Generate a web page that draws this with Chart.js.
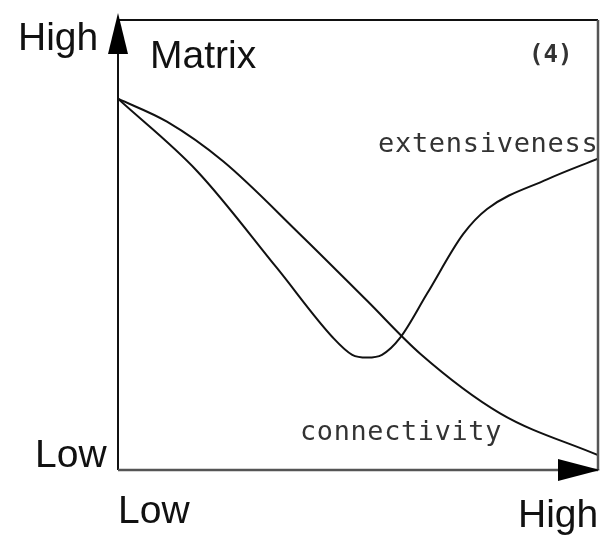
<!DOCTYPE html>
<html>
<head>
<meta charset="utf-8">
<script src="https://cdn.jsdelivr.net/npm/chart.js@4/dist/chart.umd.min.js"></script>
<style>
  html, body { margin: 0; padding: 0; background: #fff; }
  #wrap { width: 610px; height: 535px; position: relative; }
</style>
</head>
<body>
<div id="wrap"><canvas id="matrixChart"></canvas></div>
<script>
// values, both axes on a 0..100 scale
const extX = [0, 16.5, 33.1, 44.8, 48.8, 51.9, 55, 58.8, 64.4, 71.9, 76.9, 89.4, 100];
const extY = [82.5, 66.4, 44.9, 29.4, 25.6, 25.0, 25.6, 29.4, 39.2, 52.4, 58.0, 64.6, 69.2];
const connX = [0, 10.2, 21.9, 37.9, 51.9, 62.9, 79.6, 100];
const connY = [82.5, 77.4, 68.6, 52.4, 37.6, 25.9, 12.6, 3.3];
const axisLabels = { yHigh: 'High', yLow: 'Low', xLow: 'Low', xHigh: 'High' };
const seriesNames = ['extensiveness', 'connectivity'];
const panelTitle = 'Matrix';
const panelTag = '(4)';

function toPoints(xs, ys) {
    return xs.map((x, i) => ({ x: x, y: ys[i] }));
}

const frame = {
    id: 'frame',
    afterDraw(chart) {
        const ctx = chart.ctx;
        const a = chart.chartArea;
        ctx.save();
        // box
        ctx.strokeStyle = '#111';
        ctx.lineWidth = 2;
        ctx.beginPath();
        ctx.moveTo(a.left, a.bottom);
        ctx.lineTo(a.left, a.top);
        ctx.moveTo(a.left, a.top);
        ctx.lineTo(a.right, a.top);
        ctx.stroke();
        ctx.strokeStyle = '#555';
        ctx.lineWidth = 2.5;
        ctx.beginPath();
        ctx.moveTo(a.right, a.top);
        ctx.lineTo(a.right, a.bottom);
        ctx.moveTo(a.left, a.bottom);
        ctx.lineTo(a.right, a.bottom);
        ctx.stroke();

        // arrow heads
        ctx.fillStyle = '#000';
        ctx.beginPath();
        ctx.moveTo(a.left, a.top - 7);
        ctx.lineTo(a.left - 10, a.top + 34);
        ctx.lineTo(a.left + 10, a.top + 34);
        ctx.closePath();
        ctx.fill();
        ctx.beginPath();
        ctx.moveTo(a.right + 2, a.bottom);
        ctx.lineTo(a.right - 40, a.bottom - 11);
        ctx.lineTo(a.right - 40, a.bottom + 11);
        ctx.closePath();
        ctx.fill();

        // axis words
        ctx.fillStyle = '#111';
        ctx.textBaseline = 'alphabetic';
        ctx.font = '39px "Liberation Sans", Arial, sans-serif';
        ctx.fillText(axisLabels.yHigh, 18, 50);
        ctx.fillText(axisLabels.yLow, 35, 467);
        ctx.fillText(axisLabels.xLow, 118, 523);
        ctx.fillText(axisLabels.xHigh, 518, 527);
        ctx.fillText(panelTitle, 150, 68);

        ctx.font = 'bold 24px "DejaVu Sans Mono", monospace';
        ctx.fillStyle = '#333';
        ctx.fillText(panelTag, 529, 62);

        ctx.font = '27px "DejaVu Sans Mono", monospace';
        ctx.letterSpacing = '0.7px';
        ctx.fillStyle = '#333';
        ctx.fillText(seriesNames[0], 378, 152, 222);
        ctx.fillText(seriesNames[1], 300, 440, 202);
        ctx.restore();
    }
};

const lineStyle = {
    showLine: true,
    borderColor: '#111',
    borderWidth: 2,
    pointRadius: 0,
    fill: false,
    cubicInterpolationMode: 'monotone'
};

new Chart(document.getElementById('matrixChart').getContext('2d'), {
    type: 'scatter',
    data: {
        datasets: [
            Object.assign({ label: seriesNames[0], data: toPoints(extX, extY) }, lineStyle),
            Object.assign({ label: seriesNames[1], data: toPoints(connX, connY) }, lineStyle)
        ]
    },
    options: {
        responsive: true,
        maintainAspectRatio: false,
        animation: false,
        layout: { padding: { left: 118, top: 20, right: 12, bottom: 65 } },
        plugins: { legend: { display: false }, tooltip: { enabled: false } },
        scales: {
            x: { type: 'linear', min: 0, max: 100, display: false },
            y: { type: 'linear', min: 0, max: 100, display: false }
        }
    },
    plugins: [frame]
});
</script>
</body>
</html>
